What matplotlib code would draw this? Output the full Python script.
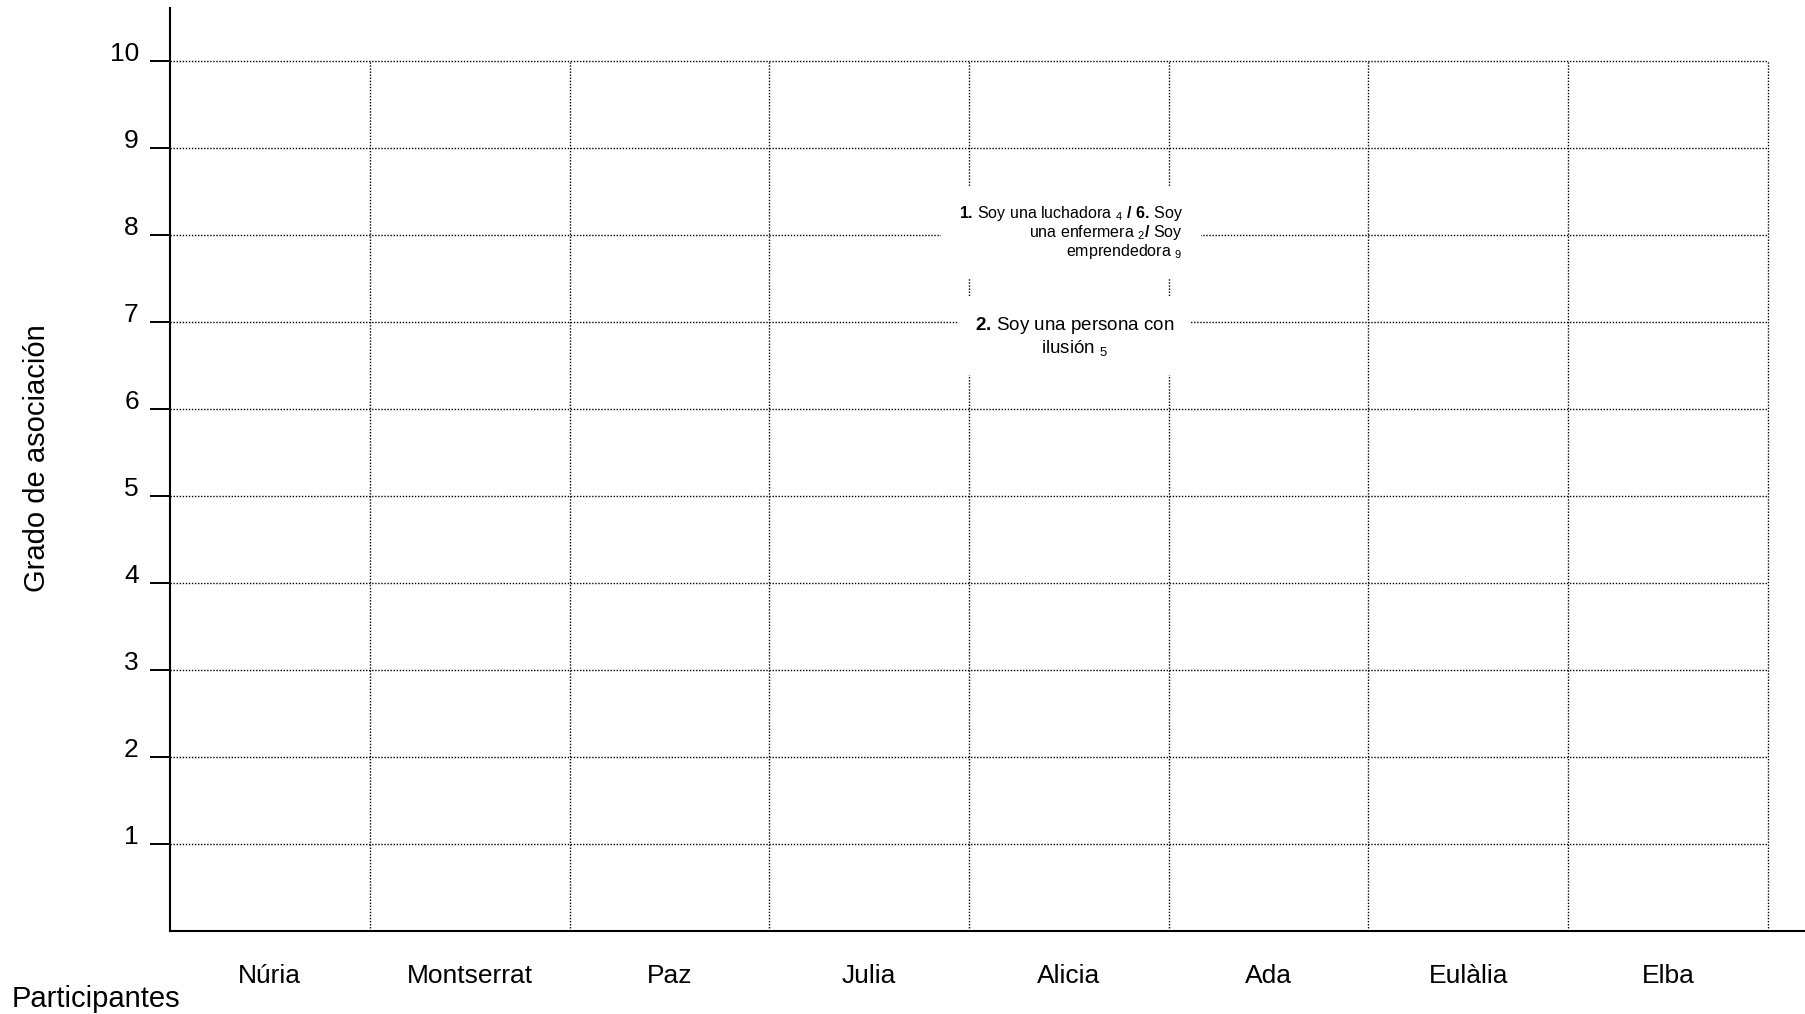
import numpy as np
import matplotlib
matplotlib.use("Agg")
from matplotlib import pyplot as plt

plt.rcParams['font.family'] = ['Liberation Sans', 'DejaVu Sans']
plt.rcParams['mathtext.fontset'] = 'custom'
plt.rcParams['mathtext.rm'] = 'Liberation Sans'
plt.rcParams['mathtext.it'] = 'Liberation Sans:italic'
plt.rcParams['mathtext.bf'] = 'Liberation Sans:bold'

# participants (columns) and association scale
participants = ['Núria', 'Montserrat', 'Paz', 'Julia', 'Alicia', 'Ada', 'Eulàlia', 'Elba']
levels = [1, 2, 3, 4, 5, 6, 7, 8, 9, 10]

# statements placed on the grid
note_who = ['Alicia', 'Alicia']
note_level = [8, 7]
note_text = [
    r'$\mathbf{1.}\!$ Soy una luchadora ${}_{4}$ $\mathbf{/\ 6.}\!$ Soy' '\n'
    r'una enfermera ${}_{2}$$\mathbf{/}$ Soy' '\n'
    r'emprendedora ${}_{9}$',
    r'$\mathbf{2.}\!$ Soy una persona con' '\n'
    r'ilusión ${}_{5}$',
]

W, H = 1805, 1014
fig = plt.figure(figsize=(W / 100, H / 100), dpi=100)
ax = fig.add_axes([170 / W, (H - 931) / H, (W - 170) / W, (931 - 8) / H])

n = len(participants)
col_w = 199.75
ax.set_xlim(0, (W - 170) / col_w)
ax.set_ylim(0, (931 - 8) / 87)

# dotted grid
ax.hlines(levels, 0, n, colors='black', linestyles=(0, (1, 1.2)), linewidth=1.0)
ax.vlines(np.arange(1, n + 1), 0, max(levels), colors='black',
          linestyles=(0, (1, 1.2)), linewidth=1.0)

for s in ['top', 'right']:
    ax.spines[s].set_visible(False)
for s in ['left', 'bottom']:
    ax.spines[s].set_linewidth(1.5)

ax.set_yticks(levels)
ax.set_yticklabels([str(v) for v in levels], fontsize=19, va='baseline')
ax.tick_params(axis='y', direction='out', length=14.5, width=1.4, pad=8)

ax.set_xticks(np.arange(n) + 0.5)
ax.set_xticklabels(participants, fontsize=19)
ax.tick_params(axis='x', length=0, pad=24)

# statements
xi = participants.index(note_who[0])
ax.text(xi + 1.07, note_level[0] + 0.03, note_text[0], ha='right', va='center',
        multialignment='right', fontsize=11.5, linespacing=1.0,
        bbox=dict(facecolor='white', edgecolor='none', pad=13), zorder=5)
xi = participants.index(note_who[1])
ax.text(xi + 0.53, note_level[1] - 0.17, note_text[1], ha='center', va='center',
        multialignment='center', fontsize=13.5, linespacing=1.15,
        bbox=dict(facecolor='white', edgecolor='none', pad=12), zorder=5)

fig.text(37 / W, 1 - 458 / H, 'Grado de asociación', rotation=90,
         ha='center', va='center', fontsize=21)
fig.text(12 / W, 1 - 1007 / H, 'Participantes', ha='left', va='baseline', fontsize=21)

fig.savefig('out.png', dpi=100)
